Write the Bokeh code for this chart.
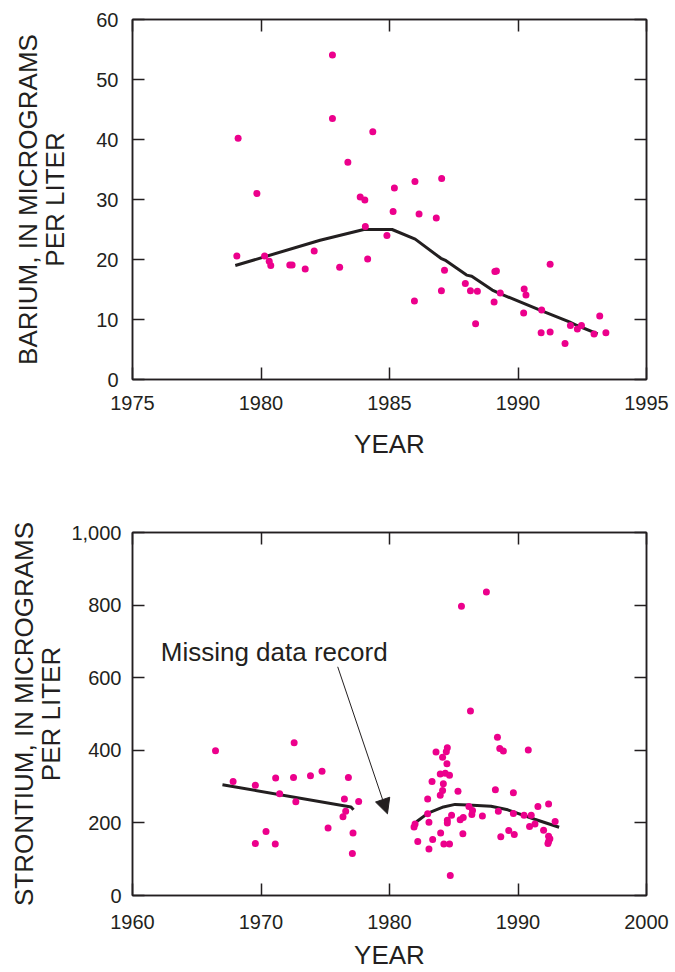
from bokeh.plotting import figure
from bokeh.layouts import column
from bokeh.models import (Range1d, LinearAxis, FixedTicker, NumeralTickFormatter,
                          Arrow, NormalHead, Label)
from bokeh.embed import file_html
from bokeh.resources import INLINE

# ---------------- data: barium ----------------
ba_year = [1979.06, 1979.11, 1979.84, 1980.14, 1980.32, 1980.38, 1981.12, 1981.21,
           1981.72, 1982.07, 1982.78, 1982.78, 1983.06, 1983.38, 1983.86, 1984.04,
           1984.06, 1984.15, 1984.35, 1984.90, 1985.14, 1985.19, 1985.97, 1985.99,
           1986.15, 1986.82, 1987.02, 1987.03, 1987.14, 1987.95, 1988.15, 1988.35,
           1988.42, 1989.07, 1989.10, 1989.16, 1989.31, 1990.22, 1990.24, 1990.31,
           1990.90, 1990.92, 1991.25, 1991.25, 1991.83, 1992.04, 1992.31, 1992.47,
           1992.96, 1993.18, 1993.42]
ba_value = [20.6, 40.2, 31.0, 20.6, 19.7, 19.0, 19.1, 19.1,
            18.4, 21.4, 54.1, 43.5, 18.7, 36.2, 30.4, 29.9,
            25.5, 20.1, 41.3, 24.0, 28.0, 31.9, 13.1, 33.0,
            27.6, 26.9, 14.8, 33.5, 18.2, 16.0, 14.8, 9.3,
            14.7, 12.9, 18.0, 18.1, 14.4, 11.1, 15.1, 14.1,
            7.8, 11.6, 7.9, 19.2, 6.0, 9.0, 8.4, 9.0,
            7.6, 10.6, 7.8]
ba_trend_year = [1979.0, 1982.3, 1984.0, 1985.1, 1986.0, 1987.0, 1987.2, 1988.0,
                 1988.2, 1989.0, 1989.3, 1991.0, 1992.0, 1992.3, 1993.1]
ba_trend_value = [19.0, 23.2, 25.0, 25.0, 23.4, 20.2, 19.8, 17.4,
                  17.2, 14.9, 14.3, 11.3, 9.6, 9.0, 7.6]

# ---------------- data: strontium ----------------
sr_year = [1966.46, 1967.83, 1969.56, 1969.56, 1970.39, 1971.11, 1971.14, 1971.45,
           1972.53, 1972.58, 1972.71, 1973.85, 1974.75, 1975.22, 1976.38, 1976.49,
           1976.59, 1976.80, 1977.11, 1977.16, 1977.60,
           1986.30, 1988.40, 1988.58, 1988.86, 1990.80, 1983.62, 1984.42, 1984.50,
           1984.13, 1984.47, 1983.95, 1984.34, 1984.67, 1983.31, 1984.19, 1984.13,
           1983.95, 1985.33, 1982.97, 1988.24, 1989.64, 1991.55, 1992.38, 1986.18,
           1986.46, 1986.41, 1987.23, 1988.47, 1989.64, 1990.47, 1991.03, 1990.90,
           1991.32, 1991.99, 1992.89, 1982.97, 1984.83, 1984.50, 1984.50, 1985.74,
           1985.50, 1981.99, 1981.91, 1983.07, 1983.98, 1985.71, 1989.28, 1989.71,
           1988.66, 1982.20, 1983.36, 1983.07, 1984.23, 1984.67, 1992.38, 1992.48,
           1992.38, 1992.33, 1984.73, 1987.54, 1985.60]
sr_value = [399, 314, 304, 143, 176, 142, 324, 280,
            325, 421, 258, 330, 342, 186, 217, 266,
            232, 325, 116, 172, 259,
            508, 436, 405, 398, 401, 395, 396, 407,
            381, 363, 335, 337, 331, 314, 308, 289,
            276, 287, 266, 291, 283, 245, 252, 245,
            234, 223, 219, 232, 226, 221, 221, 190,
            197, 180, 204, 225, 221, 207, 200, 215,
            209, 197, 189, 202, 172, 170, 179, 168,
            162, 149, 154, 128, 142, 142, 163, 156,
            149, 143, 55, 836, 797]
sr_trend1_year = [1967.0, 1977.0, 1977.2]
sr_trend1_value = [305, 244, 236]
sr_trend2_year = [1982.1, 1983.0, 1984.2, 1985.1, 1986.1, 1987.9, 1989.2, 1991.3, 1993.2]
sr_trend2_value = [203, 227, 244, 251, 249, 246, 236, 210, 188]

ba_xticks = [1975, 1980, 1985, 1990, 1995]
ba_yticks = [0, 10, 20, 30, 40, 50, 60]
sr_xticks = [1960, 1970, 1980, 1990, 2000]
sr_yticks = [0, 200, 400, 600, 800, 1000]

note_text = "Missing data record"
note_pos = (1962.2, 672)
arrow_start = (1975.97, 630)
arrow_end = (1979.84, 225)

FONT = "Liberation Sans"
INK = "#231f20"
DOT = "#ec008c"


def style_axis(ax, ticks, labels=True, standoff=12):
    ax.ticker = FixedTicker(ticks=ticks)
    ax.major_tick_in = 12
    ax.major_tick_out = 0
    ax.minor_tick_line_color = None
    ax.axis_line_color = INK
    ax.axis_line_width = 1.5
    ax.major_tick_line_color = INK
    ax.major_tick_line_width = 1.5
    ax.major_label_text_font = FONT
    ax.major_label_text_color = INK
    ax.axis_label_text_font = FONT
    ax.axis_label_text_color = INK
    ax.axis_label_text_font_style = "normal"
    ax.axis_label_text_font_size = "26px"
    ax.axis_label_text_line_height = 0.9
    if labels:
        ax.major_label_text_font_size = "20px"
        ax.major_label_standoff = standoff
    else:
        ax.major_label_text_font_size = "1px"
        ax.major_label_text_color = None
        ax.major_label_standoff = 0


def make_fig(height, xr, yr, xticks, yticks, borders, ylabel, xstand, ystand, xlab_stand, ylab_stand):
    p = figure(width=675, height=height, x_range=Range1d(*xr), y_range=Range1d(*yr),
               output_backend="svg", toolbar_location=None,
               min_border_left=borders[0], min_border_right=borders[1],
               min_border_top=borders[2], min_border_bottom=borders[3])
    p.grid.visible = False
    p.outline_line_color = INK
    p.outline_line_width = 1.5
    p.background_fill_color = "white"
    p.border_fill_color = "white"
    style_axis(p.xaxis[0], xticks, True, xstand)
    style_axis(p.yaxis[0], yticks, True, ystand)
    p.xaxis[0].axis_label = "YEAR"
    p.xaxis[0].axis_label_standoff = xlab_stand
    p.yaxis[0].axis_label = ylabel
    p.yaxis[0].axis_label_standoff = ylab_stand
    top = LinearAxis()
    style_axis(top, xticks, False)
    p.add_layout(top, "above")
    right = LinearAxis()
    style_axis(right, yticks, False)
    p.add_layout(right, "right")
    return p


p1 = make_fig(490, (1975, 1995), (0, 60), ba_xticks, ba_yticks, (132, 27, 19, 111),
              "BARIUM, IN MICROGRAMS\nPER LITER", 16, 14, 16, 23)
p1.line(ba_trend_year, ba_trend_value, line_color=INK, line_width=3)
p1.scatter(ba_year, ba_value, size=7, fill_color=DOT, line_color=None)

p2 = make_fig(482, (1960, 2000), (0, 1000), sr_xticks, sr_yticks, (130, 29, 42, 76),
              "STRONTIUM, IN MICROGRAMS\nPER LITER", 19, 11, 8, 2)
p2.yaxis[0].formatter = NumeralTickFormatter(format="0,0")
p2.line(sr_trend1_year, sr_trend1_value, line_color=INK, line_width=3)
p2.line(sr_trend2_year, sr_trend2_value, line_color=INK, line_width=3)
p2.scatter(sr_year, sr_value, size=7, fill_color=DOT, line_color=None)
p2.add_layout(Label(x=note_pos[0], y=note_pos[1], text=note_text, text_font=FONT,
                    text_font_size="26px", text_color=INK, text_baseline="alphabetic"))
p2.add_layout(Arrow(end=NormalHead(size=15, fill_color=INK, line_color=INK),
                    x_start=arrow_start[0], y_start=arrow_start[1],
                    x_end=arrow_end[0], y_end=arrow_end[1],
                    line_color=INK, line_width=1))

layout = column(p1, p2)
open("out.html", "w").write(file_html(layout, INLINE))
